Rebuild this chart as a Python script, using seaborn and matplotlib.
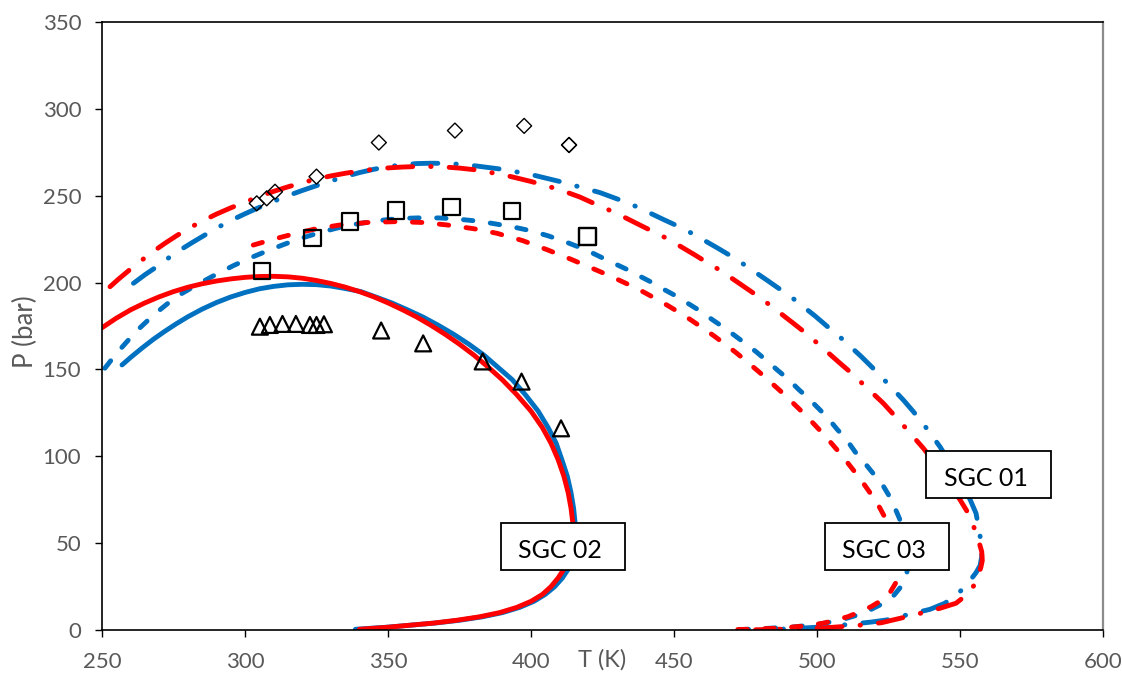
import numpy as np
import pandas as pd
import matplotlib
matplotlib.use("Agg")
import matplotlib.pyplot as plt
from matplotlib.patches import Rectangle
import matplotlib.transforms as mtransforms
import seaborn as sns

# ---------------- data ----------------
# SGC 02 (solid lines)
sgc02_red_T = [250, 255, 260, 265, 270, 275, 280, 285, 290, 295, 300, 305, 310, 315, 320, 325, 330,
               335, 340, 345, 350, 355, 360, 365, 370, 375, 380, 385, 390, 395, 400, 404, 407,
               409.5, 411.5, 413, 414, 414.6, 414.8, 414.6, 414, 413, 411.5, 409.5, 407, 404, 400,
               395, 389, 382, 374, 366, 358, 350, 345, 340]
sgc02_red_P = [174, 179.5, 184.3, 188.3, 191.8, 194.8, 197.3, 199.3, 200.9, 202.1, 203.0, 203.5, 203.6,
               203.3, 202.5, 201.2, 199.5, 197.4, 194.8, 191.8, 188.3, 184.4, 180.2, 175.4, 170.2, 164.5,
               158.3, 151.4, 144, 135.5, 126, 116.5, 107.5, 98, 88.5, 79, 70, 62, 55, 50, 45, 40,
               35, 30, 25, 20.5, 16.5, 13, 10, 7.6, 5.6, 4, 2.8, 1.6, 1.0, 0.4]
sgc02_blue_T = [257, 260, 264, 268, 272, 276, 280, 285, 290, 295, 300, 305, 310, 315, 320, 325, 330,
                335, 340.5, 345.9, 351.3, 356.7, 362.2, 367.6, 373, 378.3, 383.5, 393.5, 398, 402.5,
                406, 408.8, 410.8, 412.7, 414, 414.9, 415.4, 415.6, 415.5, 415.2, 414.5, 413, 411,
                408.3, 405, 401, 396, 390, 383, 375, 366.5, 358, 349.5, 344, 338.6]
sgc02_blue_P = [152.6, 156.9, 162.3, 167.4, 172.0, 176.3, 180.3, 184.7, 188.5, 191.7, 194.3, 196.4,
                197.8, 198.7, 199.0, 198.8, 198.0, 196.6, 194.8, 191.6, 188.3, 184.4, 180.2, 175.4,
                170.2, 164.5, 158.3, 144, 135.5, 126, 116.5, 107.5, 98, 88.5, 79, 70, 62, 55, 50,
                45, 40, 35, 30, 25, 20.5, 16.5, 13, 10, 7.6, 5.6, 4, 2.8, 1.6, 1.0, 0.4]

# SGC 01 (dash-dot lines)
sgc01_red_T = [252.8, 256, 260, 264, 268, 272, 276, 280, 285, 290, 295, 300, 305, 310, 315, 320, 325,
               330, 335, 340, 345, 350, 355, 360, 365, 370, 375, 380, 390, 400, 410, 417, 424.1,
               429.4, 438.7, 443.4, 448, 457.3, 461.6, 466.3, 474.8, 479.2, 483.5, 491.7, 496, 500,
               507.4, 511.9, 515.8, 523.2, 526.9, 530.4, 537.2, 542, 547, 550, 552.4, 554.6, 556.4,
               557.6, 557.8, 557.3, 555.6, 552.5, 548.6, 543, 538.3, 530.5, 522.6, 514, 505, 495,
               485, 477]
sgc01_red_P = [197.6, 202.3, 207.8, 213, 218, 222.6, 226.9, 230.9, 235.4, 239.4, 243, 246.3, 249.6,
               252.5, 255.1, 257.5, 259.6, 261.4, 262.9, 264.2, 265.2, 266.0, 266.5, 266.8, 266.8,
               266.5, 265.9, 265.0, 262.2, 258.2, 253.5, 249.3, 244, 240.3, 232.6, 228.8, 225,
               215.9, 211.5, 206.9, 197.3, 192.3, 187.1, 176.6, 171, 165.3, 154.5, 148.1, 142,
               130.5, 123.8, 117.4, 104.6, 94.5, 82.5, 75, 68.5, 60.4, 52, 45.1, 40, 36.1, 27.2,
               20.5, 15.4, 12.5, 10.5, 7.3, 4.2, 2.6, 1.5, 0.8, 0.35, 0.1]
sgc01_blue_T = [261, 265, 268.5, 272.4, 277, 281.5, 286, 290, 295, 300, 305, 310, 315, 320, 325, 330,
                335, 340, 345, 350, 355, 360, 365, 370, 375, 380, 390, 400, 410, 418, 424.1, 432,
                436.9, 446.2, 451.2, 456.2, 464.9, 469.6, 474.2, 482.4, 487.1, 491.5, 499.3, 503.7,
                508, 515.3, 519.3, 523.2, 530.2, 533.7, 537.2, 543, 547, 550.5, 553.5, 555.6, 556.6,
                557.4, 557.6, 557, 555.6, 552.3, 549, 544.7, 539.5, 533.7, 524.4, 519.1, 510, 500,
                492, 485]
sgc01_blue_P = [199.6, 204.5, 208.4, 213.2, 218.4, 223, 227.4, 231.3, 235.7, 239.6, 243.3, 246.8, 250,
                253, 255.8, 258.5, 261, 263.3, 265.2, 266.7, 267.8, 268.5, 268.7, 268.6, 268.1, 267.3,
                265.2, 262.2, 258.2, 254.6, 251.8, 247, 243.7, 236.4, 232.6, 228.4, 220.2, 215.6,
                210.7, 201.5, 196.1, 191, 180.8, 174.6, 168.7, 157.7, 151.2, 144.5, 132.4, 125.7,
                118.6, 105.5, 95, 85, 75.2, 67.2, 58.5, 50, 42.2, 37, 33, 25.9, 20.5, 15.4, 11.9,
                9.6, 5.8, 4.6, 3, 1.6, 0.8, 0.3]

# SGC 03 (dashed lines)
sgc03_red_T = [302.9, 310, 318, 325, 333, 343, 353, 362, 370.5, 380, 388, 397, 405.5, 414, 422,
               426.4, 430.8, 435.1, 439.2, 443.3, 447.9, 451.8, 455.8, 460, 463.9, 467.8, 471.9,
               475.4, 479.5, 483, 486.8, 490.6, 494.1, 497.6, 500.8, 504.3, 507.5, 510.4, 513.6,
               516.2, 519.1, 521.9, 524, 526.3, 528, 528.8, 528.6, 527.5, 525.5, 522.5, 519, 515,
               510.9, 506, 502.2, 495, 487, 478, 467.2]
sgc03_red_P = [221.6, 225, 228.4, 231, 233.1, 234.6, 235.1, 234.6, 233.2, 231, 228.4, 224.2, 219,
               213.4, 207.8, 204.7, 201.4, 198.1, 194.7, 191, 186.7, 182.8, 178.6, 173.9, 169.4,
               164.6, 159.4, 154.6, 148.9, 143.8, 138.2, 132.3, 126.7, 120.9, 115.3, 108.9, 102.8,
               96.9, 90.2, 84.5, 77.7, 70.5, 64, 56, 48, 40, 33, 27, 21.5, 17, 13.5, 10.5, 7.7,
               5.5, 3.9, 2.2, 1.1, 0.5, 0.1]
sgc03_blue_T = [251, 255.1, 259, 263.3, 268, 273, 278, 284, 290, 296, 302, 308, 314, 320, 326, 332,
                338, 344, 350, 356, 362, 368, 374, 380, 386, 393.8, 400, 406, 412, 417.1, 422,
                427.4, 433.4, 437.9, 442, 446.3, 450.7, 454.7, 459.1, 463, 467, 471, 474.8, 478.7,
                482.4, 486.1, 490, 493.5, 497, 500.5, 503.6, 506.9, 510.4, 513.3, 516.5, 519.6,
                522.6, 525.2, 527.3, 528.8, 530.5, 531.6, 531.9, 531.4, 530.2, 528.9, 526, 522,
                516.2, 508, 500, 492, 482.2, 474]
sgc03_blue_P = [150.7, 159.3, 166.5, 174, 181.3, 188, 193.8, 199.5, 204.8, 209.8, 214.3, 218.4, 222.2,
                225.7, 228.7, 231.3, 233.4, 235.1, 236.3, 237, 237.3, 237.2, 236.6, 235.6, 234.2, 232,
                229.8, 226.9, 223.5, 220.2, 216.6, 212.3, 207.7, 203.8, 200.3, 196.2, 192.3, 188.2,
                183.7, 179.1, 174.6, 169.8, 165.1, 160.2, 155, 149.7, 144.3, 138.6, 133.4, 127.6,
                122.5, 115.8, 109.4, 102.6, 96.5, 90.2, 84.5, 77.3, 70, 64.3, 56, 48, 40, 32.6,
                27.5, 24, 18.2, 14.4, 9.6, 5.6, 3.2, 1.8, 0.9, 0.3]

# experimental points
exp01_T = [304.1, 307.6, 310.5, 325.0, 346.8, 373.4, 397.6, 413.3, 413.3]
exp01_P = [245.6, 248.5, 252.3, 261.0, 280.6, 287.5, 290.2, 279.2, 279.2]
exp03_T = [306.0, 323.6, 336.7, 352.8, 372.2, 393.4, 419.7, 419.7]
exp03_P = [206.7, 225.5, 235.1, 241.5, 243.4, 241.2, 226.6, 226.6]
exp02_T = [305.2, 308.7, 313.1, 317.8, 322.7, 325.0, 327.6, 347.6, 362.3, 383.1, 396.7, 410.5]
exp02_P = [174.6, 175.6, 176.2, 176.2, 175.6, 175.6, 176.0, 172.4, 165.0, 154.6, 143.0, 116.1]

# curve labels (text, centre T, centre P)
label_text = ["SGC 02", "SGC 03", "SGC 01"]
label_T = [411.2, 524.5, 559.9]
label_P = [48.2, 48.0, 89.7]

x_ticks = [250, 300, 350, 400, 450, 500, 550, 600]
y_ticks = [0, 50, 100, 150, 200, 250, 300, 350]

# ---------------- style ----------------
sns.set_theme(style="white")
plt.rcParams["font.family"] = ["Lato", "DejaVu Sans"]
plt.rcParams["lines.scale_dashes"] = False

RED = "#FF0000"
BLUE = "#0070C0"
GRAY = "#595959"
LW = 3.5
DASHED = (0, (6.8, 12.6))
DASHDOT = (0, (18, 13.0, 0.3, 13.0))

fig = plt.figure(figsize=(11.22, 6.75), dpi=100)
ax = fig.add_axes([102 / 1122, 1 - 630 / 675, (1103 - 102) / 1122, (630 - 22) / 675])

def curve(T, P, color, ls):
    df = pd.DataFrame({"T": T, "P": P})
    sns.lineplot(data=df, x="T", y="P", sort=False, estimator=None, ax=ax,
                 color=color, linewidth=LW, linestyle=ls,
                 dash_capstyle="round", solid_capstyle="round", zorder=2)

curve(sgc01_blue_T, sgc01_blue_P, BLUE, DASHDOT)
curve(sgc01_red_T, sgc01_red_P, RED, DASHDOT)
curve(sgc03_blue_T, sgc03_blue_P, BLUE, DASHED)
curve(sgc03_red_T, sgc03_red_P, RED, DASHED)
curve(sgc02_blue_T, sgc02_blue_P, BLUE, "-")
curve(sgc02_red_T, sgc02_red_P, RED, "-")

def points(T, P, marker, size, lw):
    sns.scatterplot(x=T, y=P, ax=ax, marker=marker, s=size, facecolor="none",
                    edgecolor="black", linewidth=lw, zorder=4)

points(exp01_T, exp01_P, "D", 58, 1.0)
points(exp03_T, exp03_P, "s", 140, 1.6)
points(exp02_T, exp02_P, "^", 132, 1.6)

# label boxes
box_w, box_h = 43.5, 27.0
for txt, tx, py in zip(label_text, label_T, label_P):
    ax.add_patch(Rectangle((tx - box_w / 2, py - box_h / 2), box_w, box_h,
                           facecolor="white", edgecolor="black", linewidth=1.3, zorder=6))
    ax.text(tx - 1.0, py - 2.5, txt, ha="center", va="center", fontsize=18,
            color="black", zorder=7)

ax.set_xlim(250, 600)
ax.set_ylim(0, 350)
ax.set_xticks(x_ticks)
ax.set_yticks(y_ticks)
ax.tick_params(axis="both", which="major", direction="out", length=5, width=1,
               color="black", labelcolor=GRAY, labelsize=16,
               bottom=True, left=True)
ax.tick_params(axis="x", pad=11)
ax.tick_params(axis="y", pad=10)
for side in ["left", "bottom", "top"]:
    ax.spines[side].set_color("black")
    ax.spines[side].set_linewidth(1.2)
ax.spines["right"].set_color("#8c8c8c")
ax.spines["right"].set_linewidth(1.6)

ax.set_xlabel("")
ax.set_ylabel("P (bar)", fontsize=18.5, color=GRAY)
ax.yaxis.set_label_coords(-0.064, 0.49)
trans = mtransforms.blended_transform_factory(ax.transData, ax.transAxes)
ax.text(425, -0.049, "T (K)", transform=trans, ha="center", va="center",
        fontsize=17, color=GRAY)

fig.savefig("out.png", dpi=100, facecolor="white")
